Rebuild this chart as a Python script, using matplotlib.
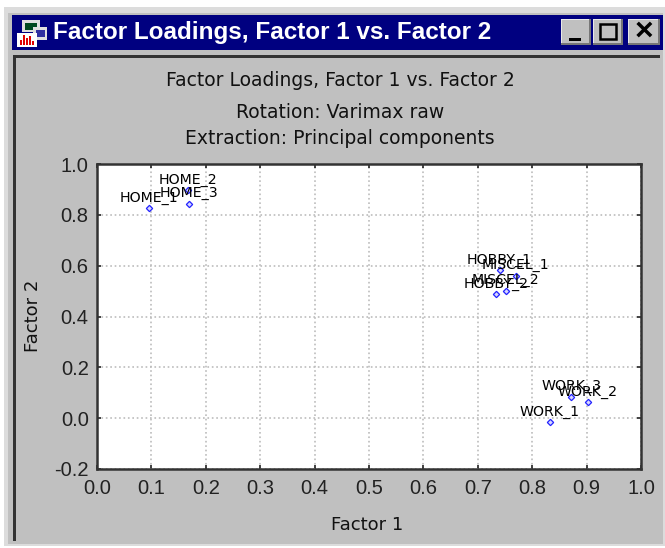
import matplotlib
matplotlib.use('Agg')
import matplotlib.pyplot as plt
from matplotlib.patches import Rectangle

names = ['HOME_1', 'HOME_2', 'HOME_3', 'HOBBY_1', 'MISCEL_1', 'MISCEL_2', 'HOBBY_2', 'WORK_1', 'WORK_2', 'WORK_3']
factor1 = [0.096, 0.167, 0.170, 0.740, 0.770, 0.751, 0.733, 0.832, 0.902, 0.872]
factor2 = [0.826, 0.898, 0.843, 0.581, 0.561, 0.502, 0.488, -0.016, 0.063, 0.085]
xticks = [0.0, 0.1, 0.2, 0.3, 0.4, 0.5, 0.6, 0.7, 0.8, 0.9, 1.0]
yticks = [-0.2, 0.0, 0.2, 0.4, 0.6, 0.8, 1.0]
title_lines = ['Factor Loadings, Factor 1 vs. Factor 2', 'Rotation: Varimax raw', 'Extraction: Principal components']

W, H = 665, 548
plt.rcParams['font.family'] = ['Liberation Sans', 'DejaVu Sans']
fig = plt.figure(figsize=(W / 100, H / 100), dpi=100, facecolor='white')

# window chrome, in pixels from the top left
bg = fig.add_axes([0, 0, 1, 1])
bg.set_xlim(0, W)
bg.set_ylim(H, 0)
bg.axis('off')

def box(x0, y0, x1, y1, color, z=1):
    bg.add_patch(Rectangle((x0, y0), x1 - x0, y1 - y0, facecolor=color, edgecolor='none', zorder=z))

box(4, 7, W, 546, '#dcdcdc')
box(8, 13, 663, 544, '#c0c0c0')
box(12, 15, 663, 50, '#000080')
box(13, 55, 16, 541, '#333333')
box(13, 55, 660, 58, '#333333')

# title bar buttons
for x0, x1 in [(561, 591), (593, 623), (628, 660)]:
    box(x0, 19, x1, 45, '#777777')
    box(x0, 19, x1 - 2, 43, '#e8e8e8')
    box(x0 + 1, 20, x1 - 2, 43, '#c0c0c0')
box(569, 38, 581, 41, 'black', 3)
bg.add_patch(Rectangle((600, 24), 16, 15, facecolor='none', edgecolor='black', lw=1.8, zorder=3))
bg.text(644, 32, '×', color='black', fontsize=23, fontweight='bold', ha='center', va='center')

# title bar icon
box(22, 20, 40, 32, '#e0e0e0')
box(25, 23, 37, 30, '#004a20', 2)
box(33, 27, 47, 40, '#e0e0e0', 3)
box(36, 30, 45, 37, '#3030a0', 4)
box(17, 33, 37, 47, 'white', 5)
for x0, h in [(20, 5), (23, 10), (26, 7), (29, 9), (32, 4)]:
    box(x0, 45 - h, x0 + 2, 45, '#e00000', 6)

bg.text(53, 33, title_lines[0], color='white', fontsize=17.5, fontweight='bold',
        ha='left', va='center')

for line, y in zip(title_lines, [81, 113, 139]):
    bg.text(340, y, line, color='#111111', fontsize=13.5, ha='center', va='center',
            family='DejaVu Sans')

bg.text(367, 525, 'Factor 1', color='#111111', fontsize=13, ha='center', va='center',
        family='DejaVu Sans')
bg.text(33, 316, 'Factor 2', color='#111111', fontsize=13, rotation=90, ha='center', va='center',
        family='DejaVu Sans')

# plot area
left, right, top, bottom = 97, 641, 164, 469
ax = fig.add_axes([left / W, 1 - bottom / H, (right - left) / W, (bottom - top) / H])
ax.set_facecolor('white')
ax.set_xlim(0.0, 1.0)
ax.set_ylim(-0.2, 1.0)
ax.set_xticks(xticks)
ax.set_yticks(yticks)
ax.set_xticklabels(['%.1f' % v for v in xticks])
ax.set_yticklabels(['%.1f' % v for v in yticks])
ax.tick_params(direction='in', top=True, right=True, length=3, width=1.2, color='#222222',
               labelsize=14.5, labelcolor='#222222')
ax.tick_params(axis='x', pad=7)
ax.tick_params(axis='y', pad=6)
ax.grid(True, color='#bcbcbc', linestyle=':', linewidth=1.2)
ax.set_axisbelow(True)
for s in ax.spines.values():
    s.set_linewidth(1.8)
    s.set_color('#333333')

ax.plot(factor1, factor2, linestyle='none', marker='D', markersize=3.2,
        markerfacecolor='#d8d8ff', markeredgecolor='#2222ff', markeredgewidth=0.9, clip_on=False)
for name, x, y in zip(names, factor1, factor2):
    ax.annotate(name, (x, y), xytext=(0, 7.5), textcoords='offset points', ha='center', va='center',
                fontsize=10.2, color='black', family='DejaVu Sans')

fig.savefig('out.png', dpi=100)
